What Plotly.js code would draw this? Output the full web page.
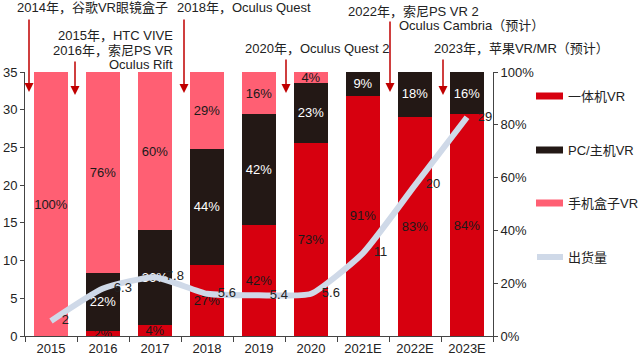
<!DOCTYPE html>
<html>
<head>
<meta charset="utf-8">
<script src="https://cdn.plot.ly/plotly-3.0.1.min.js"></script>
<style>html,body{margin:0;padding:0;background:#fff;}#chart{width:640px;height:360px;}</style>
</head>
<body>
<div id="chart"></div>
<script>
const years = ['2015','2016','2017','2018','2019','2020','2021E','2022E','2023E'];
const standalonePct = [0, 2, 4, 27, 42, 73, 91, 83, 84];
const pcPct = [0, 22, 36, 44, 42, 23, 9, 18, 16];
const mobilePct = [100, 76, 60, 29, 16, 4, 0, 0, 0];
const shipments = [2, 6.3, 7.8, 5.6, 5.4, 5.6, 11, 20, 29];
const shipmentLabels = ['2', '6.3', '7.8', '5.6', '5.4', '5.6', '11', '20', '29'];
const seriesNames = ['一体机VR', 'PC/主机VR', '手机盒子VR', '出货量'];
const events = [
  {text: '2014年，谷歌VR眼镜盒子', px: 15, py: 7, anchor: 'left'},
  {text: '2015年，HTC VIVE', px: 175, py: 35, anchor: 'right'},
  {text: '2016年，索尼PS VR', px: 175, py: 51, anchor: 'right'},
  {text: 'Oculus Rift', px: 175, py: 65, anchor: 'right'},
  {text: '2018年，Oculus Quest', px: 175, py: 7, anchor: 'left'},
  {text: '2020年，Oculus Quest 2', px: 243, py: 48, anchor: 'left'},
  {text: '2022年，索尼PS VR 2', px: 346, py: 11, anchor: 'left'},
  {text: 'Oculus Cambria（预计）', px: 397, py: 26, anchor: 'left'},
  {text: '2023年，苹果VR/MR（预计）', px: 432, py: 49, anchor: 'left'}
];
const arrows = [
  {px: 29, tail: 18, head: 92},
  {px: 75, tail: 60, head: 95},
  {px: 184, tail: 18, head: 93},
  {px: 286, tail: 58, head: 93},
  {px: 390, tail: 20, head: 92},
  {px: 443, tail: 58, head: 95}
];

const FONT = "'Liberation Sans', Arial, 'Noto Sans CJK SC', sans-serif";
const RED = '#d7000f', DARK = '#231815', PINK = '#ff5f73', LINE = '#cfd9e8';
const L = 25, R = 493, T = 72, B = 336;
const toX = px => (px - L) / (R - L);
const toY = py => (B - py) / (B - T);
const lbl = arr => arr.map(v => v > 0 ? v + '%' : '');

const barCommon = {type: 'bar', x: years, textposition: 'inside', insidetextanchor: 'middle', textangle: 0,
  yaxis: 'y', showlegend: false, hoverinfo: 'skip', marker: {line: {width: 0}}};

const traces = [
  Object.assign({}, barCommon, {name: seriesNames[0], y: standalonePct, text: lbl(standalonePct),
    marker: {color: RED}, textfont: {color: '#1a1a1a', size: 13, family: FONT}}),
  Object.assign({}, barCommon, {name: seriesNames[1], y: pcPct, text: lbl(pcPct),
    marker: {color: DARK}, textfont: {color: '#ffffff', size: 13, family: FONT}}),
  Object.assign({}, barCommon, {name: seriesNames[2], y: mobilePct, text: lbl(mobilePct),
    marker: {color: PINK}, textfont: {color: '#1a1a1a', size: 13, family: FONT}}),
  {type: 'scatter', mode: 'lines+text', name: seriesNames[3], x: years, y: shipments,
    yaxis: 'y2', line: {color: LINE, width: 6, shape: 'spline', smoothing: 0.5},
    text: shipmentLabels.map(s => '   ' + s), textposition: 'middle right',
    textfont: {color: '#222', size: 13, family: FONT}, showlegend: false, hoverinfo: 'skip', cliponaxis: false}
];

const annotations = [];
events.forEach(e => annotations.push({xref: 'paper', yref: 'paper', x: toX(e.px), y: toY(e.py),
  xanchor: e.anchor, yanchor: 'middle', text: e.text, showarrow: false,
  font: {family: FONT, size: 13, color: '#222'}}));
arrows.forEach(a => annotations.push({xref: 'paper', yref: 'paper', x: toX(a.px), y: toY(a.head),
  ax: 0, ay: -(a.head - a.tail), text: '', showarrow: true, arrowhead: 2, arrowsize: 1.2,
  arrowwidth: 1.5, arrowcolor: '#c00000'}));

// legend
const legY = [96, 150, 203, 257];
const legColors = [RED, DARK, PINK];
const shapes = [];
legY.forEach((py, i) => {
  if (i < 3) {
    shapes.push({type: 'rect', xref: 'paper', yref: 'paper', x0: toX(536), x1: toX(563),
      y0: toY(py + 3.5), y1: toY(py - 3.5), fillcolor: legColors[i], line: {width: 0}});
  } else {
    shapes.push({type: 'line', xref: 'paper', yref: 'paper', x0: toX(537), x1: toX(563),
      y0: toY(py), y1: toY(py), line: {color: LINE, width: 6}});
  }
  annotations.push({xref: 'paper', yref: 'paper', x: toX(566), y: toY(py), xanchor: 'left',
    yanchor: 'middle', text: seriesNames[i], showarrow: false, font: {family: FONT, size: 13, color: '#222'}});
});

const axisCommon = {showgrid: false, zeroline: false, showline: true, linecolor: '#444', linewidth: 1,
  ticks: 'outside', ticklen: 4, tickcolor: '#444', tickfont: {family: FONT, size: 13, color: '#222'}};

const layout = {
  width: 640, height: 360,
  margin: {l: L, r: 640 - R, t: T, b: 360 - B, pad: 0},
  paper_bgcolor: '#fff', plot_bgcolor: '#fff',
  barmode: 'stack', bargap: 0.33,
  uniformtext: {mode: 'show', minsize: 13},
  font: {family: FONT, size: 13, color: '#222'},
  xaxis: Object.assign({}, axisCommon, {type: 'category', range: [-0.5, 8.5], tickson: 'boundaries', ticklen: 5}),
  yaxis: Object.assign({}, axisCommon, {side: 'right', range: [0, 100], dtick: 20, ticksuffix: '%'}),
  yaxis2: Object.assign({}, axisCommon, {overlaying: 'y', side: 'left', range: [0, 35], dtick: 5}),
  showlegend: false,
  annotations: annotations,
  shapes: shapes
};

Plotly.newPlot('chart', traces, layout, {displayModeBar: false, staticPlot: true});
</script>
</body>
</html>
